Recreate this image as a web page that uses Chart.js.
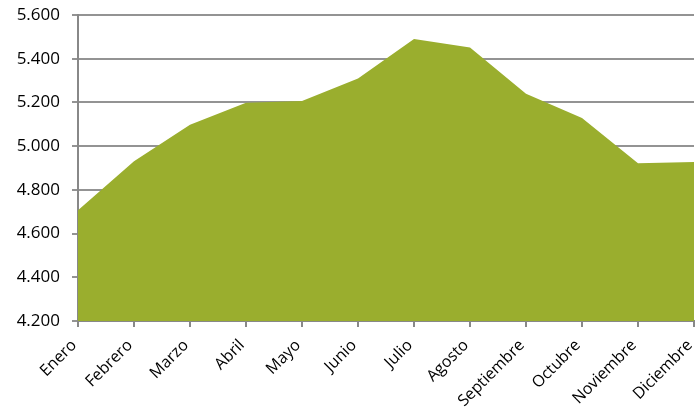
<!DOCTYPE html>
<html><head><meta charset="utf-8">
<script src="https://cdn.jsdelivr.net/npm/chart.js@4.4.0/dist/chart.umd.min.js"></script>
<style>html,body{margin:0;padding:0;background:#fff}#w{width:697px;height:417px}</style>
</head><body><div id="w"><canvas id="c"></canvas></div>
<script>
const months = ['Enero','Febrero','Marzo','Abril','Mayo','Junio','Julio','Agosto','Septiembre','Octubre','Noviembre','Diciembre'];
const values = [4707, 4931, 5098, 5198, 5207, 5310, 5490, 5451, 5240, 5129, 4922, 4927];
const yMin = 4200, yMax = 5600, yStep = 200;
function fmt(v){ return String(v).replace(/\B(?=(\d{3})+(?!\d))/g, '.'); }
new Chart(document.getElementById('c'), {
  type: 'line',
  data: { labels: months, datasets: [{ data: values, fill: 'start', backgroundColor: 'rgb(154,174,46)', borderWidth: 0, pointRadius: 0, tension: 0 }] },
  options: {
    responsive: true, maintainAspectRatio: false, animation: false,
    layout: { padding: { top: 15, right: 3, left: 0, bottom: 0 } },
    plugins: { legend: { display: false }, tooltip: { enabled: false } },
    scales: {
      x: {
        offset: false,
        grid: { drawOnChartArea: false, drawTicks: true, tickLength: 6, color: '#888', lineWidth: 2 },
        border: { color: '#888', width: 2 },
        ticks: { color: '#000', font: { family: 'Open Sans', size: 16 }, minRotation: 45, maxRotation: 45, padding: 9, labelOffset: -4 },
        afterFit: s => { s.height = 96; s.paddingRight = 0; s.paddingLeft = 0; }
      },
      y: {
        min: yMin, max: yMax,
        grid: { color: '#939393', lineWidth: 2, tickLength: 6 },
        border: { color: '#888', width: 2 },
        ticks: { stepSize: yStep, color: '#000', font: { family: 'Open Sans', size: 17 }, padding: 12, callback: v => fmt(v) },
        afterFit: s => { s.width = 78; s.paddingTop = 0; s.paddingBottom = 0; }
      }
    }
  }
});
</script></body></html>
